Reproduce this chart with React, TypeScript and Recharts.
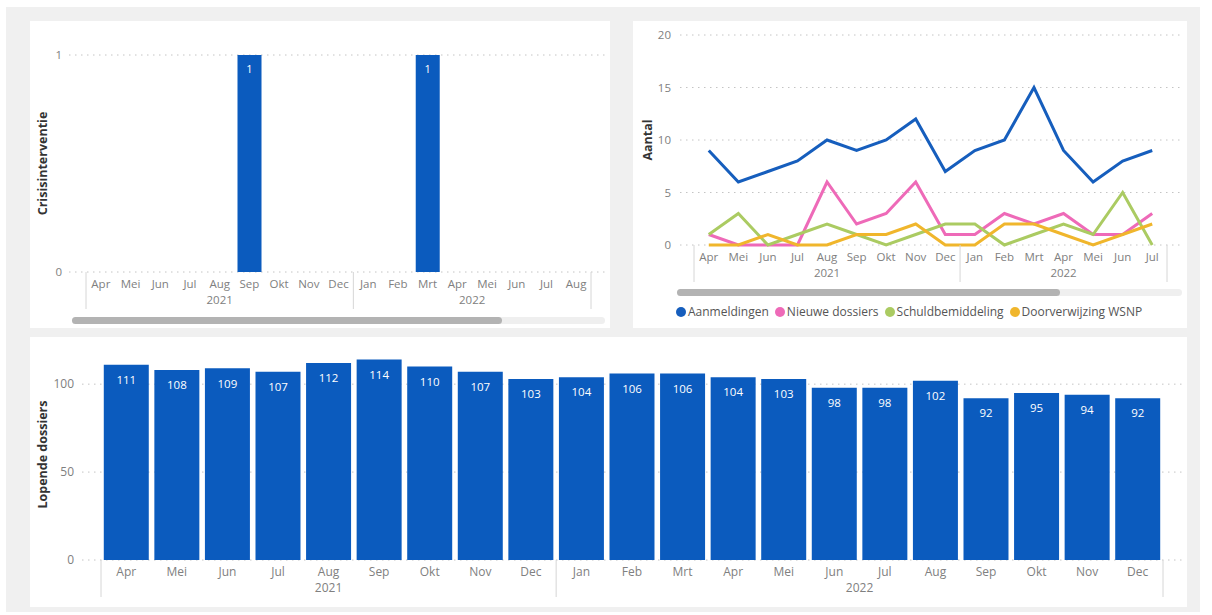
import React from "react";
import { BarChart, ComposedChart, Bar, Line, XAxis, YAxis, CartesianGrid, LabelList } from "recharts";

const FONT = '"Open Sans", "Noto Sans", sans-serif';
const BAR_BLUE = "#0B5BBE";
const TICK_GREY = "#808080";

// Crisisinterventie, Apr 2021 – Aug 2022
const crisisMonths = ["Apr", "Mei", "Jun", "Jul", "Aug", "Sep", "Okt", "Nov", "Dec", "Jan", "Feb", "Mrt", "Apr", "Mei", "Jun", "Jul", "Aug"];
const crisisYears = ["2021", "2021", "2021", "2021", "2021", "2021", "2021", "2021", "2021", "2022", "2022", "2022", "2022", "2022", "2022", "2022", "2022"];
const crisisValues = [0, 0, 0, 0, 0, 1, 0, 0, 0, 0, 0, 1, 0, 0, 0, 0, 0];
const crisisTicks = [0, 1];

// Aantal per maand, Apr 2021 – Jul 2022
const flowMonths = ["Apr", "Mei", "Jun", "Jul", "Aug", "Sep", "Okt", "Nov", "Dec", "Jan", "Feb", "Mrt", "Apr", "Mei", "Jun", "Jul"];
const flowYears = ["2021", "2021", "2021", "2021", "2021", "2021", "2021", "2021", "2021", "2022", "2022", "2022", "2022", "2022", "2022", "2022"];
const aanmeldingen = [9, 6, 7, 8, 10, 9, 10, 12, 7, 9, 10, 15, 9, 6, 8, 9];
const nieuweDossiers = [1, 0, 0, 0, 6, 2, 3, 6, 1, 1, 3, 2, 3, 1, 1, 3];
const schuldbemiddeling = [1, 3, 0, 1, 2, 1, 0, 1, 2, 2, 0, 1, 2, 1, 5, 0];
const doorverwijzingWsnp = [0, 0, 1, 0, 0, 1, 1, 2, 0, 0, 2, 2, 1, 0, 1, 2];
const flowTicks = [0, 5, 10, 15, 20];

// Lopende dossiers, Apr 2021 – Dec 2022
const lopendeMonths = ["Apr", "Mei", "Jun", "Jul", "Aug", "Sep", "Okt", "Nov", "Dec", "Jan", "Feb", "Mrt", "Apr", "Mei", "Jun", "Jul", "Aug", "Sep", "Okt", "Nov", "Dec"];
const lopendeYears = ["2021", "2021", "2021", "2021", "2021", "2021", "2021", "2021", "2021", "2022", "2022", "2022", "2022", "2022", "2022", "2022", "2022", "2022", "2022", "2022", "2022"];
const lopendeDossiers = [111, 108, 109, 107, 112, 114, 110, 107, 103, 104, 106, 106, 104, 103, 98, 98, 102, 92, 95, 94, 92];
const lopendeTicks = [0, 50, 100];

const flowSeries = [
  { key: "aanmeldingen", name: "Aanmeldingen", color: "#165EBD", values: aanmeldingen },
  { key: "nieuwe", name: "Nieuwe dossiers", color: "#EE6AB8", values: nieuweDossiers },
  { key: "schuld", name: "Schuldbemiddeling", color: "#ABCB62", values: schuldbemiddeling },
  { key: "wsnp", name: "Doorverwijzing WSNP", color: "#F0B62C", values: doorverwijzingWsnp },
];

type Row = { key: string; month: string; year: string; [k: string]: any };

const crisisData: Row[] = crisisMonths.map((m, i) => ({ key: `${m} ${crisisYears[i]}`, month: m, year: crisisYears[i], value: crisisValues[i] }));
const flowData: Row[] = flowMonths.map((m, i) => {
  const row: Row = { key: `${m} ${flowYears[i]}`, month: m, year: flowYears[i] };
  flowSeries.forEach((s) => (row[s.key] = s.values[i]));
  return row;
});
const lopendeData: Row[] = lopendeMonths.map((m, i) => ({ key: `${m} ${lopendeYears[i]}`, month: m, year: lopendeYears[i], value: lopendeDossiers[i] }));

// month label + grouped year label with separators, like the PBI hierarchy axis
function MonthYearTick(props: any) {
  const { x, y, payload, rows, half, fontSize } = props;
  const i = payload?.index ?? 0;
  const row: Row = rows[i];
  if (!row) return null;
  const h = payload.offset > 0 ? payload.offset : half;
  const first = i === 0 || rows[i - 1].year !== row.year;
  const last = i === rows.length - 1;
  const count = rows.filter((r: Row) => r.year === row.year).length;
  const textStyle = { fill: TICK_GREY, fontSize, fontFamily: FONT };
  return (
    <g>
      <text x={x} y={y + 11} textAnchor="middle" dominantBaseline="central" {...textStyle}>{row.month}</text>
      {first && <line x1={x - h} x2={x - h} y1={y} y2={y + 37} stroke="#d6d6d6" />}
      {first && (
        <text x={x - h + count * h} y={y + 27} textAnchor="middle" dominantBaseline="central" {...textStyle}>{row.year}</text>
      )}
      {last && <line x1={x + h} x2={x + h} y1={y} y2={y + 37} stroke="#d6d6d6" />}
    </g>
  );
}

function AxisTitle({ viewBox, text, tx }: any) {
  if (!viewBox) return null;
  const cy = viewBox.y + viewBox.height / 2;
  return (
    <text x={tx} y={cy} transform={`rotate(-90 ${tx} ${cy})`} textAnchor="middle" dominantBaseline="central"
      fill="#333" fontSize={12.5} fontWeight={700} fontFamily={FONT}>
      {text}
    </text>
  );
}

function Scrollbar({ left, top, thumb, track }: { left: number; top: number; thumb: number; track: number }) {
  return (
    <div style={{ position: "absolute", left, top, width: track, height: 7, borderRadius: 4, background: "#efefef" }}>
      <div style={{ width: thumb, height: 7, borderRadius: 4, background: "#b3b3b3" }} />
    </div>
  );
}

const gridProps = { vertical: false, stroke: "#c4c4c4", strokeDasharray: "1.5 4.5" };

function CrisisPanel() {
  const W = 580, H = 307, plotLeft = 39, plotRight = 575, plotTop = 34, plotBottom = 251;
  const padL = 17, padR = 14;
  const half = (plotRight - plotLeft - padL - padR) / crisisData.length / 2;
  return (
    <div style={{ position: "absolute", left: 30, top: 21, width: W, height: H, background: "#fff" }}>
      <BarChart width={W} height={H} data={crisisData} margin={{ top: plotTop, right: W - plotRight, bottom: 0, left: 0 }} barCategoryGap="10%">
        <CartesianGrid {...gridProps} horizontalValues={crisisTicks} />
        <XAxis dataKey="key" interval={0} height={H - plotBottom} axisLine={false} tickLine={false} tickSize={0} tickMargin={0}
          padding={{ left: padL, right: padR }}
          tick={(p: any) => <MonthYearTick {...p} rows={crisisData} half={half} fontSize={11.5} />} />
        <YAxis width={plotLeft} domain={[0, 1]} ticks={crisisTicks} axisLine={false} tickLine={false} tickSize={0} tickMargin={7}
          tick={{ fill: TICK_GREY, fontSize: 11.5, fontFamily: FONT }}
          label={{ content: (p: any) => <AxisTitle viewBox={p.viewBox} text="Crisisinterventie" tx={12} /> }} />
        <Bar dataKey="value" fill={BAR_BLUE} isAnimationActive={false}>
          <LabelList dataKey="value" position="insideTop" offset={10} fill="#fff" fontSize={11} fontFamily={FONT}
            formatter={(v: any) => (v ? v : "")} />
        </Bar>
      </BarChart>
      <Scrollbar left={42} top={296} thumb={430} track={533} />
    </div>
  );
}

function FlowPanel() {
  const W = 554, H = 307, plotLeft = 47, plotRight = 549, plotTop = 14, plotBottom = 224;
  const padL = 14, padR = 15;
  const half = (plotRight - plotLeft - padL - padR) / flowData.length / 2;
  return (
    <div style={{ position: "absolute", left: 633, top: 21, width: W, height: H, background: "#fff" }}>
      <ComposedChart width={W} height={H} data={flowData} margin={{ top: plotTop, right: W - plotRight, bottom: 0, left: 0 }}>
        <CartesianGrid {...gridProps} horizontalValues={flowTicks} />
        <XAxis dataKey="key" scale="band" interval={0} height={H - plotBottom} axisLine={false} tickLine={false} tickSize={0} tickMargin={0}
          padding={{ left: padL, right: padR }}
          tick={(p: any) => <MonthYearTick {...p} rows={flowData} half={half} fontSize={11.5} />} />
        <YAxis width={plotLeft} domain={[0, 20]} ticks={flowTicks} axisLine={false} tickLine={false} tickSize={0} tickMargin={9}
          tick={{ fill: TICK_GREY, fontSize: 11.5, fontFamily: FONT }}
          label={{ content: (p: any) => <AxisTitle viewBox={p.viewBox} text="Aantal" tx={14} /> }} />
        {flowSeries.map((s) => (
          <Line key={s.key} dataKey={s.key} name={s.name} stroke={s.color} strokeWidth={3} dot={false}
            activeDot={false} type="linear" isAnimationActive={false} />
        ))}
      </ComposedChart>
      <Scrollbar left={44} top={268} thumb={383} track={505} />
      <div style={{ position: "absolute", left: 43, top: 282, display: "flex", alignItems: "center", fontFamily: FONT, fontSize: 12, color: "#555", whiteSpace: "nowrap" }}>
        {flowSeries.map((s) => (
          <div key={s.key} style={{ display: "flex", alignItems: "center", marginRight: 6 }}>
            <span style={{ width: 10, height: 10, borderRadius: 5, background: s.color, marginRight: 2, display: "inline-block" }} />
            <span>{s.name}</span>
          </div>
        ))}
      </div>
    </div>
  );
}

function LopendePanel() {
  const W = 1157, H = 270, plotLeft = 52, plotRight = 1152, plotTop = 12, plotBottom = 223;
  const padL = 19, padR = 19;
  const half = (plotRight - plotLeft - padL - padR) / lopendeData.length / 2;
  return (
    <div style={{ position: "absolute", left: 30, top: 337, width: W, height: H, background: "#fff" }}>
      <BarChart width={W} height={H} data={lopendeData} margin={{ top: plotTop, right: W - plotRight, bottom: 0, left: 0 }} barCategoryGap="5.5%">
        <CartesianGrid {...gridProps} horizontalValues={lopendeTicks} />
        <XAxis dataKey="key" interval={0} height={H - plotBottom} axisLine={false} tickLine={false} tickSize={0} tickMargin={0}
          padding={{ left: padL, right: padR }}
          tick={(p: any) => <MonthYearTick {...p} rows={lopendeData} half={half} fontSize={12} />} />
        <YAxis width={plotLeft} domain={[0, 120]} ticks={lopendeTicks} axisLine={false} tickLine={false} tickSize={0} tickMargin={8}
          tick={{ fill: TICK_GREY, fontSize: 12, fontFamily: FONT }}
          label={{ content: (p: any) => <AxisTitle viewBox={p.viewBox} text="Lopende dossiers" tx={12} /> }} />
        <Bar dataKey="value" fill={BAR_BLUE} isAnimationActive={false}>
          <LabelList dataKey="value" position="insideTop" offset={11} fill="#fff" fontSize={11.5} fontFamily={FONT} />
        </Bar>
      </BarChart>
    </div>
  );
}

export default function App() {
  return (
    <div style={{ position: "absolute", left: 0, top: 0, width: 1212, height: 615, background: "#fff", overflow: "hidden" }}>
      <div style={{ position: "absolute", left: 6, top: 7, width: 1194, height: 605, background: "#f0f0f0" }} />
      <CrisisPanel />
      <FlowPanel />
      <LopendePanel />
    </div>
  );
}
